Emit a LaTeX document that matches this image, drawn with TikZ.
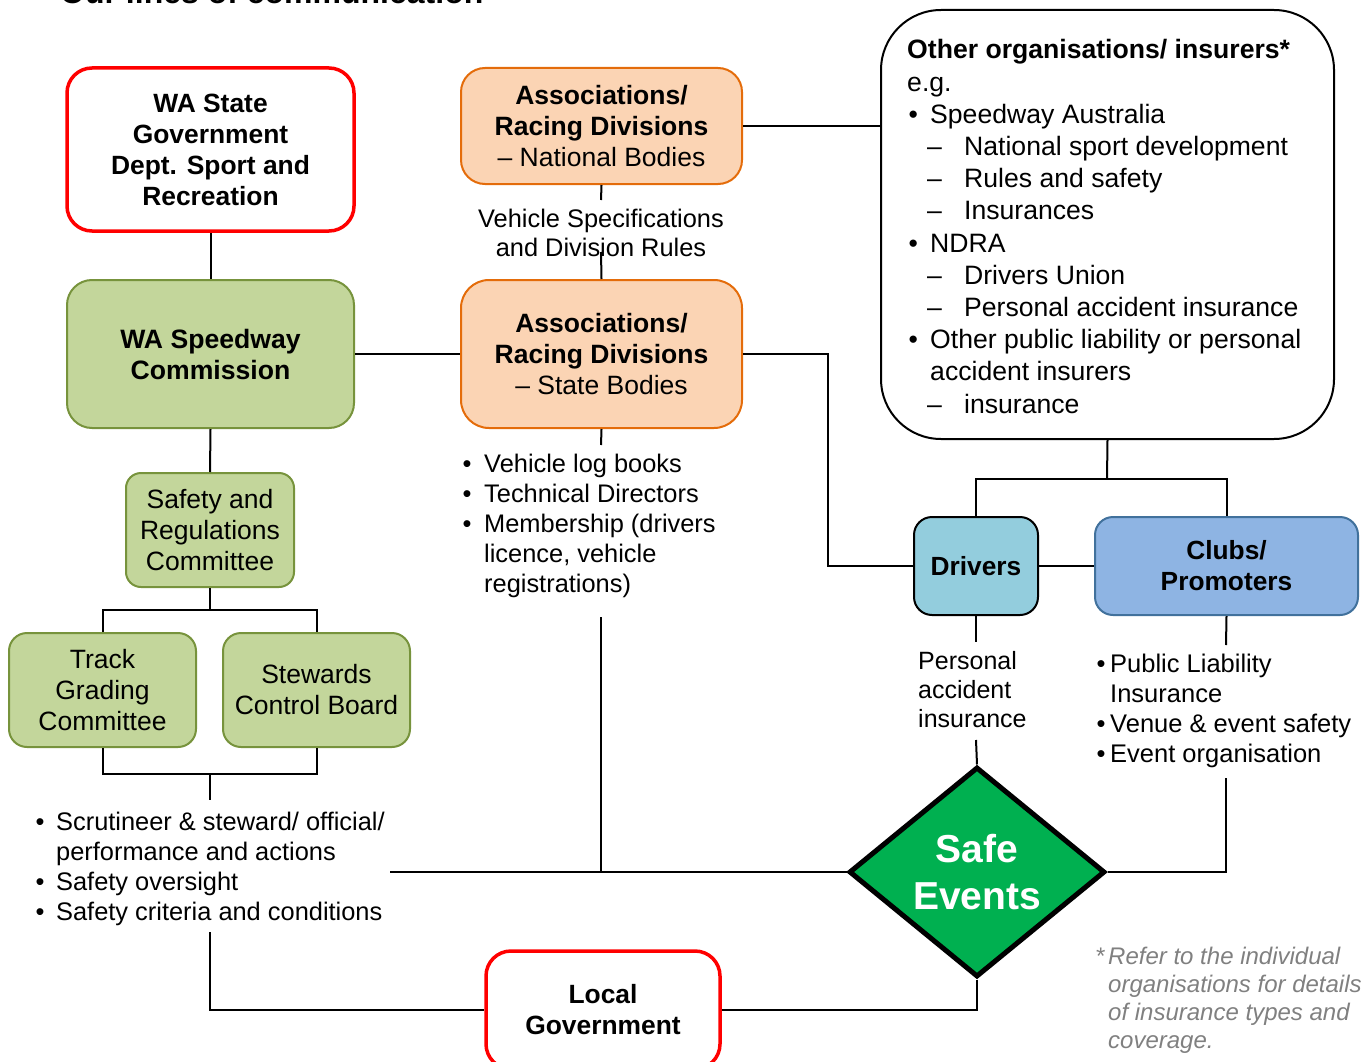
\documentclass[tikz,border=0pt]{standalone}
\usepackage{fontspec}
\setmainfont{Liberation Sans}
\usetikzlibrary{shapes.geometric}
\definecolor{gfill}{HTML}{C3D69B}
\definecolor{gdraw}{HTML}{77933C}
\definecolor{ofill}{HTML}{FBD4B4}
\definecolor{odraw}{HTML}{E46C0A}
\definecolor{dfill}{HTML}{93CDDD}
\definecolor{cfill}{HTML}{8EB4E3}
\definecolor{cdraw}{HTML}{41719C}
\definecolor{sgreen}{HTML}{00B050}
\definecolor{fgray}{HTML}{808080}
\newcommand\mybul[1]{\makebox[#1][l]{\textbullet}}
\begin{document}
\begin{tikzpicture}[x=1pt,y=-1pt,
  every node/.style={inner sep=0pt, font=\fontsize{26.5}{31}\selectfont},
  conn/.style={draw=black, line width=2pt},
  govbox/.style={draw=red, line width=3.5pt, fill=white, rounded corners=25pt, align=center, font=\fontsize{26.4}{31}\selectfont\bfseries},
  greenbox/.style={draw=gdraw, line width=2pt, fill=gfill, rounded corners=18pt, align=center},
  orangebox/.style={draw=odraw, line width=2pt, fill=ofill, rounded corners=24pt, align=center},
  listtext/.style={anchor=base west, font=\fontsize{25.4}{30}\selectfont}
]
\useasboundingbox (0,0) rectangle (1370,1062);

% title (cut off at top, as in the reference)
\node[anchor=base west, font=\fontsize{32}{38}\selectfont\bfseries] (title) at (60,3.5) {Our lines of communication};

% boxes
\node[govbox, minimum width=287pt, minimum height=163pt] (gov) at (210.5,149.5) {WA State\\Government\\Dept. Sport and\\Recreation};
\node[greenbox, font=\fontsize{26.6}{31}\selectfont\bfseries, minimum width=287pt, minimum height=148pt, rounded corners=25pt] (wsc) at (210.5,354) {WA Speedway\\Commission};
\node[greenbox, minimum width=168pt, minimum height=114pt, rounded corners=15pt] (src) at (210,530) {Safety and\\Regulations\\Committee};
\node[greenbox, minimum width=187pt, minimum height=114pt] (tgc) at (102.5,690) {Track\\Grading\\Committee};
\node[greenbox, minimum width=187pt, minimum height=114pt] (scb) at (316.5,690) {Stewards\\Control Board};
\node[orangebox, minimum width=281pt, minimum height=116pt] (nat) at (601.5,126) {\textbf{Associations/}\\\textbf{Racing Divisions}\\– National Bodies};
\node[orangebox, minimum width=281pt, minimum height=148pt, rounded corners=28pt] (sta) at (601.5,354) {\textbf{Associations/}\\\textbf{Racing Divisions}\\– State Bodies};
\node[draw=black, line width=2pt, rounded corners=60pt, minimum width=453pt, minimum height=429pt] (oth) at (1107.5,224.5) {};
\node[draw=black, line width=2pt, fill=dfill, rounded corners=18pt, minimum width=124pt, minimum height=98pt, font=\fontsize{26.3}{31}\selectfont\bfseries] (drv) at (976,566) {Drivers};
\node[draw=cdraw, line width=2pt, fill=cfill, rounded corners=18pt, minimum width=263pt, minimum height=98pt, align=center, font=\fontsize{26.3}{31}\selectfont\bfseries] (clb) at (1226.5,566) {Clubs/\\Promoters};
\node[diamond, draw=black, line width=5pt, fill=sgreen, minimum width=256pt, minimum height=210pt, align=center, text=white, font=\fontsize{39}{47}\selectfont\bfseries] (safe) at (977,872) {Safe\\Events};
\node[govbox, minimum width=234pt, minimum height=118pt] (lg) at (603,1010) {Local\\Government};

% texts
\node[anchor=base, font=\fontsize{25.4}{29}\selectfont] (vsr) at (601,227) {\begin{tabular}[t]{@{}c@{}}Vehicle Specifications\\and Division Rules\end{tabular}};
\node[listtext] (stl) at (462.5,472) {\begin{tabular}[t]{@{}l@{}}\mybul{21.5pt}Vehicle log books\\
\mybul{21.5pt}Technical Directors\\
\mybul{21.5pt}Membership (drivers\\
\hspace*{21.5pt}licence, vehicle\\
\hspace*{21.5pt}registrations)\end{tabular}};
\node[listtext] (lft) at (35.5,830) {\begin{tabular}[t]{@{}l@{}}\mybul{20.5pt}Scrutineer \& steward/ official/\\
\hspace*{20.5pt}performance and actions\\
\mybul{20.5pt}Safety oversight\\
\mybul{20.5pt}Safety criteria and conditions\end{tabular}};
\node[anchor=base west, font=\fontsize{26.6}{32.2}\selectfont] (otht) at (907,59) {\begin{tabular}[t]{@{}l@{}}\textbf{Other organisations/ insurers*}\\
e.g.\\
\hspace*{1.5pt}\mybul{21.5pt}Speedway Australia\\
\hspace*{20pt}\makebox[37pt][l]{–}National sport development\\
\hspace*{20pt}\makebox[37pt][l]{–}Rules and safety\\
\hspace*{20pt}\makebox[37pt][l]{–}Insurances\\
\hspace*{1.5pt}\mybul{21.5pt}NDRA\\
\hspace*{20pt}\makebox[37pt][l]{–}Drivers Union\\
\hspace*{20pt}\makebox[37pt][l]{–}Personal accident insurance\\
\hspace*{1.5pt}\mybul{21.5pt}Other public liability or personal\\
\hspace*{23pt}accident insurers\\
\hspace*{20pt}\makebox[37pt][l]{–}insurance\end{tabular}};
\node[anchor=base west, font=\fontsize{25}{29}\selectfont] (pai) at (918,669) {\begin{tabular}[t]{@{}l@{}}Personal\\accident\\insurance\end{tabular}};
\node[anchor=base west, font=\fontsize{25.5}{30}\selectfont] (clt) at (1096.5,672) {\begin{tabular}[t]{@{}l@{}}\mybul{13.5pt}Public Liability\\
\hspace*{13.5pt}Insurance\\
\mybul{13.5pt}Venue \& event safety\\
\mybul{13.5pt}Event organisation\end{tabular}};
\node[anchor=base west, font=\fontsize{24}{28}\selectfont\itshape, text=fgray] (fn) at (1095,964) {\begin{tabular}[t]{@{}l@{}}\makebox[13pt][l]{*}Refer to the individual\\
\hspace*{13pt}organisations for details\\
\hspace*{13pt}of insurance types and\\
\hspace*{13pt}coverage.\end{tabular}};

% junction points
\coordinate (j1) at (210,610);
\coordinate (j2) at (210,774);
\coordinate (lb) at (210,800);
\coordinate (lb2) at (210,932);
\coordinate (vs1) at (601,200);
\coordinate (vs2) at (601,252);
\coordinate (sb) at (601,445);
\coordinate (sb2) at (601,617);
\coordinate (hl) at (390,872);
\coordinate (c1) at (828,354);
\coordinate (j3) at (1107,479);
\coordinate (pa1) at (976,642);
\coordinate (pa2) at (976,740);
\coordinate (cb1) at (1226,645);
\coordinate (cb2) at (1226,778);

% connectors
\draw[conn] (gov.south) -- (wsc.north);
\draw[conn] (wsc.south) -- (src.north);
\draw[conn] (src.south) -- (j1);
\draw[conn] (tgc.north) |- (j1) -| (scb.north);
\draw[conn] (tgc.south) |- (j2) -| (scb.south);
\draw[conn] (j2) -- (lb);
\draw[conn] (lb2) |- (lg.west);
\draw[conn] (wsc.east) -- (sta.west);
\draw[conn] (nat.south) -- (vs1);
\draw[conn] (vs2) -- (sta.north);
\draw[conn] (sta.south) -- (sb);
\draw[conn] (sb2) -- (sb2 |- safe.west);
\draw[conn] (hl) -- (safe.west);
\draw[conn] (nat.east) -- (nat.east -| oth.west);
\draw[conn] (sta.east) -- (c1) |- (drv.west);
\draw[conn] (oth.south) -- (j3);
\draw[conn] (drv.north) |- (j3) -| (clb.north);
\draw[conn] (drv.east) -- (clb.west);
\draw[conn] (drv.south) -- (pa1);
\draw[conn] (pa2) -- (safe.north);
\draw[conn] (clb.south) -- (cb1);
\draw[conn] (cb2) |- (safe.east);
\draw[conn] (safe.south) |- (lg.east);
\end{tikzpicture}
\end{document}
